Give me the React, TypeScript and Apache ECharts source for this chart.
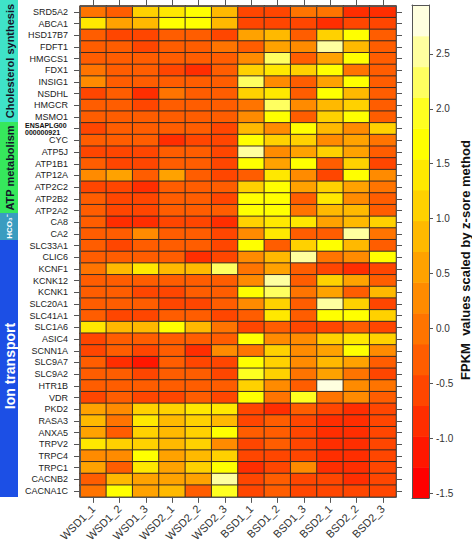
import React, { useEffect, useRef } from "react";
import * as echarts from "echarts";

const samples = ["WSD1_1", "WSD1_2", "WSD1_3", "WSD2_1", "WSD2_2", "WSD2_3", "BSD1_1", "BSD1_2", "BSD1_3", "BSD2_1", "BSD2_2", "BSD2_3"];

const genes = [
  "SRD5A2", "ABCA1", "HSD17B7", "FDFT1", "HMGCS1", "FDX1", "INSIG1", "NSDHL", "HMGCR", "MSMO1",
  "ENSAPLG00000000921", "CYC", "ATP5J", "ATP1B1", "ATP12A", "ATP2C2", "ATP2B2", "ATP2A2", "CA8", "CA2",
  "SLC33A1", "CLIC6", "KCNF1", "KCNK12", "KCNK1", "SLC20A1", "SLC41A1", "SLC1A6", "ASIC4", "SCNN1A",
  "SLC9A7", "SLC9A2", "HTR1B", "VDR", "PKD2", "RASA3", "ANXA5", "TRPV2", "TRPC4", "TRPC1", "CACNB2", "CACNA1C",
];

// z-scores, one row per gene, columns in the order of `samples`
const zScores: number[][] = [
  [0.02, -0.27, 1.10, 1.38, 1.70, 0.86, -0.55, -0.58, 0.03, -0.04, -0.85, -0.82],
  [1.42, 0.55, 0.83, 1.66, 1.72, 0.88, -0.57, -0.52, -0.60, -0.86, -0.54, -0.59],
  [-0.27, -0.55, -0.59, -0.30, -0.26, -0.53, 0.54, 0.82, -0.29, 1.10, 1.70, -0.31],
  [-0.28, -0.25, -0.56, -0.30, -0.27, -0.03, -0.26, 0.58, 0.27, 2.55, 0.85, -0.29],
  [-0.30, -0.27, -0.26, -0.29, -0.31, -0.25, 0.30, 2.22, -0.28, 0.57, 1.64, -0.27],
  [0.01, -0.29, -0.27, -0.57, -0.86, -0.31, 1.13, 1.39, 1.08, 1.70, 0.03, -0.30],
  [0.26, -0.28, -0.26, -0.30, -0.27, -0.33, 2.26, 0.29, -0.25, 0.56, 1.67, -0.28],
  [-0.58, -0.29, -0.83, 0.02, -0.27, -0.30, 1.11, 1.41, -0.29, 1.67, 0.83, -0.26],
  [-0.28, -0.30, -0.55, -0.26, -0.29, -0.27, -0.02, 2.20, 0.29, 0.85, 1.12, -0.28],
  [-0.27, -0.29, -0.28, -0.31, -0.30, -0.26, 0.27, 1.69, -0.29, 1.10, 1.65, -0.30],
  [-0.56, -0.28, -0.27, -0.30, -0.29, -0.58, 0.84, 0.28, 1.66, 0.82, 0.30, 1.12],
  [-0.29, -0.27, -0.30, -0.84, -0.55, -0.58, 1.68, 1.11, 1.06, 0.27, 0.55, 0.02],
  [-0.57, -0.55, -0.60, -0.28, -0.27, -0.56, 2.50, 0.29, 0.57, 1.13, 0.55, -0.30],
  [-0.28, -0.57, -0.56, -0.29, -0.32, -0.55, 1.68, 0.56, 1.70, -0.28, 1.10, -0.58],
  [0.29, 0.56, -0.27, 0.54, -0.29, -0.57, -0.30, 1.40, 0.27, -0.56, 1.67, 0.28],
  [-0.56, -0.58, -0.85, -0.28, -0.27, -0.30, 1.12, 1.66, 0.57, 1.10, 0.55, 0.01],
  [-0.27, -0.56, -0.58, -0.29, -0.28, -0.55, 1.70, 1.67, -0.29, 1.38, 0.28, -0.27],
  [-0.29, -0.57, -0.55, -0.27, -0.30, -0.28, 1.69, 1.64, 0.00, 0.84, 0.85, -0.29],
  [-0.28, -0.85, -0.83, -0.57, -0.55, -0.86, 1.11, 1.40, 1.37, 0.56, 0.84, 1.10],
  [-0.30, -0.27, 0.28, -0.29, -0.26, -0.57, 0.29, 1.39, -0.28, -0.30, 2.52, 0.02],
  [-0.27, -0.56, -0.29, -0.28, -0.30, -0.55, 1.68, -0.27, 1.12, 1.66, 0.83, -0.29],
  [-0.29, -0.28, -0.26, -0.30, -0.84, -0.56, 0.27, 0.85, 2.53, 0.01, 0.29, 1.68],
  [0.02, 0.83, 1.41, 0.85, 0.82, 2.23, -0.01, 0.55, -0.28, -0.56, -0.85, -0.57],
  [-0.28, -0.30, -0.27, -0.29, -0.26, -0.31, 0.28, 2.51, -0.27, 1.11, 0.56, -0.29],
  [-0.27, -0.29, -0.57, -0.55, -0.28, -0.30, 1.67, 2.21, 0.02, 0.57, -0.28, 0.84],
  [-0.29, -0.27, -0.30, -0.56, -0.58, -0.28, 0.29, 1.12, -0.27, 2.54, 1.10, -0.57],
  [-0.30, -0.55, -0.57, -0.27, -0.29, -0.56, -0.28, 1.39, -0.30, 1.69, 1.66, 1.11],
  [1.40, 0.84, 0.86, 1.68, 0.83, 0.01, -0.56, -0.28, -0.57, -0.55, -0.29, -0.58],
  [-0.56, -0.28, -0.29, -0.27, -0.30, -0.28, 1.67, 0.28, 0.27, 1.11, 1.40, 1.12],
  [-0.57, -0.27, -0.55, -0.29, -0.85, 0.28, 0.02, 1.12, 0.29, 0.56, 1.68, 0.27],
  [-0.29, -0.84, -1.12, -0.27, -0.56, -0.58, 1.69, 1.10, 0.28, 0.84, 0.56, -0.28],
  [-0.28, -0.30, -0.56, -0.27, -0.29, -0.57, 1.96, 1.11, 0.01, 0.57, 0.02, -0.56],
  [-0.27, -0.29, -0.28, -0.30, -0.26, -0.29, 1.12, 0.28, -0.28, 2.80, 0.29, 0.01],
  [-0.56, -0.28, -0.58, -0.55, -0.27, -0.57, 1.67, 0.02, 1.95, -0.01, 0.28, -0.29],
  [0.56, 0.28, 1.11, 1.12, 1.40, 1.38, -0.57, -0.84, -0.28, -0.56, -0.86, -0.55],
  [0.84, 0.01, 1.39, 0.83, 1.11, 0.85, -0.56, -0.28, -0.58, -0.85, -0.83, -0.56],
  [0.55, -0.28, 1.12, 0.84, 1.10, 1.67, -0.29, -0.27, -0.57, -0.84, -0.86, -0.55],
  [1.39, 1.11, 1.12, 0.83, 1.10, 0.28, -0.56, -0.29, -0.57, -0.85, -0.84, -0.56],
  [0.27, 0.29, 1.68, 0.56, 0.84, 1.12, -0.55, -0.57, -0.56, -0.84, -0.86, -0.58],
  [0.57, -0.28, 1.40, 0.55, 1.11, 1.67, -0.85, -0.56, 0.28, -0.84, -0.83, -0.57],
  [-0.29, 0.84, 0.56, 0.57, 0.55, 2.52, -0.56, -0.28, -0.58, -0.55, -0.85, -0.57],
  [0.01, 1.68, 0.55, 0.84, -0.29, 1.96, -0.57, -0.28, -0.56, -0.58, -0.55, -0.57],
];

// colour key: 16 equal bands between data min and max
const colorBreaks = [
  -1.545, -1.264, -0.984, -0.703, -0.423, -0.142, 0.139, 0.419, 0.7,
  0.981, 1.261, 1.541, 1.822, 2.103, 2.383, 2.664, 2.945,
];
const heatColors = [
  "#FF0000", "#FF1700", "#FF2E00", "#FF4600", "#FF5D00", "#FF7400", "#FF8B00", "#FFA200",
  "#FFB900", "#FFD100", "#FFE800", "#FFFF00", "#FFFF20", "#FFFF60", "#FFFF9F", "#FFFFDF",
];
const scaleTicks = [-1.5, -1.0, -0.5, 0, 0.5, 1.0, 1.5, 2.0, 2.5];

const geneGroups = ["Cholesterol synthesis", "ATP metabolism", "HCO\u2083\u207B", "Ion transport"];
const keyTitle = "FPKM  values scaled by z-sore method";

const FONT = '"Liberation Sans", Arial, sans-serif';
const AXIS = "#555";

export default function App() {
  const ref = useRef<HTMLDivElement>(null);

  useEffect(() => {
    document.body.style.margin = "0";
    const chart = echarts.init(ref.current!, null, { renderer: "svg" });

    const cells: number[][] = [];
    zScores.forEach((row, r) => row.forEach((v, c) => cells.push([c, r, v])));

    const keyBands = heatColors.map((_, i) => [0, colorBreaks[i], colorBreaks[i + 1]]);

    const catLine = { show: true, onZero: false, lineStyle: { color: AXIS, width: 1 } };
    const catTick = { show: true, alignWithLabel: true, interval: 0, length: 6, lineStyle: { color: AXIS } };

    const textStyle = (size: number, weight: string, fill: string) => ({
      fontSize: size,
      fontWeight: weight,
      fontFamily: FONT,
      fill,
      align: "center",
      verticalAlign: "middle",
      textAlign: "center",
      textVerticalAlign: "middle",
    });

    const option: any = {
      animation: false,
      textStyle: { fontFamily: FONT },
      grid: [
        { left: 80, top: 6, width: 316, height: 492 },
        { left: 412, top: 5, width: 17, height: 493 },
      ],
      xAxis: [
        {
          gridIndex: 0, type: "category", data: samples, position: "bottom", z: 5,
          axisLine: catLine, axisTick: catTick, splitLine: { show: false },
          axisLabel: { interval: 0, rotate: 45, fontSize: 11, color: "#333", margin: 10, fontFamily: FONT },
        },
        {
          gridIndex: 0, type: "category", data: samples, position: "top", z: 5,
          axisLine: catLine, axisTick: catTick, axisLabel: { show: false }, splitLine: { show: false },
        },
        {
          gridIndex: 1, type: "value", min: 0, max: 1, position: "bottom", z: 5,
          axisLine: catLine, axisTick: { show: false }, axisLabel: { show: false }, splitLine: { show: false },
        },
        {
          gridIndex: 1, type: "value", min: 0, max: 1, position: "top", z: 5,
          axisLine: catLine, axisTick: { show: false }, axisLabel: { show: false }, splitLine: { show: false },
        },
      ],
      yAxis: [
        {
          gridIndex: 0, type: "category", data: genes, inverse: true, position: "left", z: 5,
          axisLine: catLine, axisTick: catTick, splitLine: { show: false },
          axisLabel: {
            interval: 0, hideOverlap: false,
            fontSize: 9, color: "#222", margin: 12, fontFamily: FONT,
            formatter: (v: string) =>
              v.startsWith("ENSAPLG") ? `{e|${v.slice(0, 9)}}\n{e|${v.slice(9)}}` : v,
            rich: {
              e: { fontSize: 7, fontWeight: "bold", color: "#111", lineHeight: 6.8, width: 43, align: "left", fontFamily: FONT },
            },
          },
        },
        {
          gridIndex: 0, type: "category", data: genes, inverse: true, position: "right", z: 5,
          axisLine: catLine, axisTick: catTick, axisLabel: { show: false }, splitLine: { show: false },
        },
        {
          gridIndex: 1, type: "value", min: -1.545, max: 2.945, position: "right", z: 5,
          axisLine: catLine,
          axisTick: { show: true, length: 4, customValues: scaleTicks, lineStyle: { color: AXIS } },
          axisLabel: {
            customValues: scaleTicks, fontSize: 10, color: "#333", margin: 7, fontFamily: FONT,
            formatter: (v: number) => v.toFixed(1),
          },
          splitLine: { show: false },
        },
        {
          gridIndex: 1, type: "value", min: -1.545, max: 2.945, position: "left", z: 5,
          axisLine: catLine, axisTick: { show: false }, axisLabel: { show: false }, splitLine: { show: false },
        },
      ],
      visualMap: {
        type: "piecewise",
        show: false,
        seriesIndex: 0,
        dimension: 2,
        pieces: heatColors.map((color, i) =>
          i === heatColors.length - 1
            ? { gte: colorBreaks[i], lte: colorBreaks[i + 1], color }
            : { gte: colorBreaks[i], lt: colorBreaks[i + 1], color }
        ),
      },
      series: [
        {
          type: "heatmap",
          xAxisIndex: 0,
          yAxisIndex: 0,
          data: cells,
          silent: true,
          itemStyle: { borderColor: "#3a2c24", borderWidth: 1 },
          emphasis: { disabled: true },
        },
        {
          type: "custom",
          xAxisIndex: 2,
          yAxisIndex: 2,
          silent: true,
          data: keyBands,
          encode: { x: 0, y: [1, 2] },
          renderItem: (params: any, api: any) => {
            const lo = api.value(1);
            const hi = api.value(2);
            const p0 = api.coord([0, lo]);
            const p1 = api.coord([1, hi]);
            return {
              type: "rect",
              shape: { x: p0[0], y: p1[1], width: p1[0] - p0[0], height: p0[1] - p1[1] + 0.5 },
              style: { fill: heatColors[params.dataIndex] },
            };
          },
        },
      ],
      graphic: [
        { type: "rect", shape: { x: 0, y: 0, width: 18, height: 122 }, style: { fill: "#3FE3C8" } },
        { type: "rect", shape: { x: 0, y: 122, width: 18, height: 91 }, style: { fill: "#36E85C" } },
        { type: "rect", shape: { x: 0, y: 213, width: 18, height: 27 }, style: { fill: "#3A9CC0" } },
        { type: "rect", shape: { x: 0, y: 240, width: 18, height: 257 }, style: { fill: "#1C4FE5" } },
        { type: "text", x: 9.5, y: 61, rotation: Math.PI / 2, style: { text: geneGroups[0], ...textStyle(11, "bold", "#15152a") } },
        { type: "text", x: 9.5, y: 168, rotation: Math.PI / 2, style: { text: geneGroups[1], ...textStyle(11, "bold", "#15152a") } },
        { type: "text", x: 9.5, y: 226.5, rotation: Math.PI / 2, style: { text: geneGroups[2], ...textStyle(8, "bold", "#ffffff") } },
        { type: "text", x: 9.5, y: 366, rotation: Math.PI / 2, style: { text: geneGroups[3], ...textStyle(14, "bold", "#ffffff") } },
        { type: "text", x: 465, y: 260, rotation: Math.PI / 2, style: { text: keyTitle, ...textStyle(13, "bold", "#111111") } },
      ],
    };

    chart.setOption(option);
    return () => chart.dispose();
  }, []);

  return <div ref={ref} style={{ width: 472, height: 544 }} />;
}
